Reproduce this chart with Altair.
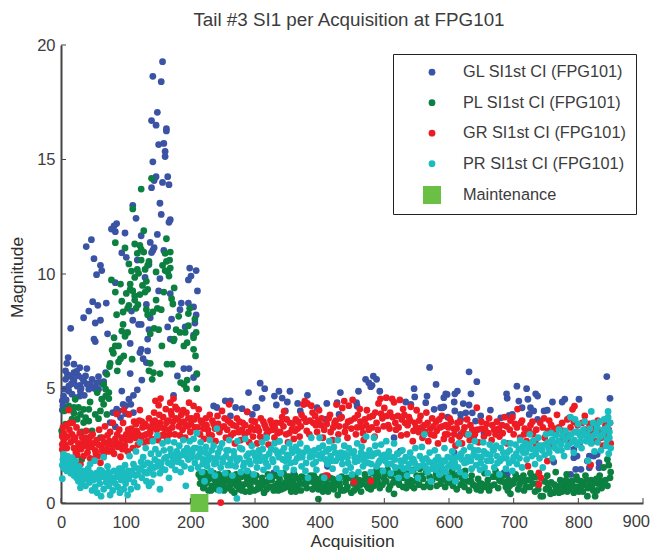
import altair as alt
import pandas as pd

GL = [(157,19.27),(142,18.63),(155,18.4),(149,17.06),(140,16.7),(147,16.5),(163,16.35),(163,16.25),(159,15.7),(151,15.65),(161,15.35),(161,15.13),(142,14.9),(147,14.25),(165,14.25),(144,14.08),(157,14.0),(167,13.9),(140,13.77),(153,13.09),(111,13.0),(155,12.6),(116,12.43),(169,12.37),(167,12.26),(86,12.2),(82,12.1),(78,11.96),(84,11.85),(99,11.79),(149,11.73),(124,11.67),(47,11.5),(138,11.38),(39,11.2),(144,11.15),(142,11.03),(159,11.03),(140,10.93),(94,10.92),(101,10.73),(51,10.67),(118,10.61),(136,10.42),(61,10.38),(63,10.15),(55,9.97),(199,10.26),(209,10.15),(201,9.91),(197,9.74),(153,9.8),(130,9.85),(84,9.62),(211,9.26),(151,9.26),(169,9.14),(49,8.79),(57,8.63),(70,8.73),(186,8.73),(197,8.73),(205,8.56),(132,8.67),(184,8.44),(43,8.38),(109,8.38),(209,8.21),(35,8.09),(138,8.09),(171,8.03),(111,7.98),(61,7.98),(53,7.86),(207,7.86),(120,7.8),(124,7.8),(15,7.63),(165,7.69),(192,7.69),(136,7.57),(72,7.39),(205,7.33),(51,7.16),(134,7.16),(169,7.16),
(53,7.05),(107,6.97),(124,6.71),(122,6.57),(134,6.64),(127,6.3),(132,6.13),(11,6.35),(9,6.1),(20,6.06),(29,5.91),(40,5.87),(7,5.77),(20,5.69),(14,5.55),(27,5.55),(69,5.69),(58,5.52),(107,5.65),(48,5.4),(7,5.4),(35,5.33),(20,5.33),(125,5.37),(61,5.26),(45,5.18),(29,5.14),(5,4.97),(12,4.89),(30,4.89),(43,4.97),(58,4.97),(94,4.89),(118,4.94),(29,4.67),(4,4.67),(112,4.7),(2,4.46),(174,4.7),(105,4.53),(96,4.31),(108,4.31),(2,4.06),(89,4.02),(112,3.95),(92,3.73),(76,3.51),(84,3.33),(290,4.82),(254,4.46),(262,4.46),(236,4.24),(241,4.17),(270,4.17),(280,4.12),(303,4.17),(288,3.98),(262,3.8),(190,5.87),(198,5.87),(210,5.62),(180,5.55),(205,5.48),
(16,5.2),(24,5.75),(12,5.1),(38,5.55),(52,5.0),(3,4.25),(17,4.75),(36,4.7),(66,5.3),(80,3.95),(100,3.9),(86,4.1),(100,4.25),(25,5.1),(33,5.45),(40,5.2),(10,5.6),(18,5.45),(31,5.0),(48,5.05),(22,4.6),(8,4.5),(55,5.25),
(308,5.23),(315,4.99),(337,4.88),(330,4.67),(311,4.57),(354,4.88),(342,4.58),(350,4.41),(333,4.28),(381,4.7),(366,4.35),(377,4.35),(347,4.02),(301,4.16),(296,3.87),(370,4.02),(432,4.82),(460,4.88),(471,5.4),(476,5.25),(483,5.54),(488,5.4),(481,5.14),(479,5.08),(493,4.88),(546,4.99),(547,4.63),(570,5.92),(580,5.18),(566,4.67),(564,4.38),(541,4.31),(533,4.41),(427,4.38),(457,4.38),(411,4.35),(396,4.16),(409,3.65),(430,3.87),(458,4.23),(587,4.16),(592,4.2),(577,4.09),(597,4.74),(412,1.6),(412,1.76),(360,1.32),(329,1.32),(525,2.27),(515,2.85),(523,1.1),
(631,5.73),(643,5.3),(634,4.77),(613,4.89),(609,4.77),(595,4.77),(592,4.6),(608,4.41),(622,4.34),(631,4.28),(590,4.16),(609,4.02),(636,3.94),(598,3.75),(618,3.87),(626,3.94),(664,4.06),(705,5.1),(720,4.99),(689,4.77),(690,4.57),(734,4.77),(737,4.67),(708,4.45),(722,4.53),(726,4.16),(713,4.16),(760,4.41),(779,4.53),(775,4.41),(801,4.53),(844,5.52),(849,4.57),(747,4.02),(752,4.05),(724,3.87),(731,4.02),(693,3.83),(698,3.87),(680,3.72),(649,3.8),(641,3.58),(618,3.65),(737,3.65),(786,3.72),(817,2.05),(824,2.05),(829,2.12),(814,1.83),(832,1.76),(798,2.05),(793,1.98),(804,1.47),(796,1.47),(788,1.25),(762,1.79),(832,1.54),(817,1.54),(690,1.25),(685,1.32),(618,3.0),(608,2.2),(793,2.34),(677,3.2),(654,3.07)]

PL = [(140,14.18),(124,13.71),(111,12.84),(128,11.89),(163,11.54),(84,11.37),(114,11.31),(122,11.25),(99,11.14),(124,11.08),(128,10.96),(118,10.9),(161,10.9),(169,10.96),(168,10.61),(163,10.55),(124,10.61),(136,10.55),(105,10.44),(134,10.38),(157,10.38),(169,10.26),(161,10.15),(118,10.2),(130,10.2),(109,10.13),(147,10.09),(120,10.03),(165,10.09),(167,9.91),(114,9.85),(78,9.74),(132,9.68),(92,9.56),(107,9.56),(126,9.5),(134,9.33),(175,9.39),(107,9.33),(111,9.26),(130,9.21),(84,9.21),(159,9.21),(101,9.15),(122,9.1),(114,9.04),(171,8.92),(114,8.86),(147,8.86),(94,8.81),(173,8.69),(105,8.63),(119,8.66),(103,8.5),(116,8.5),(199,8.5),(149,8.5),(155,8.44),(142,8.34),(132,8.45),(96,8.34),(197,8.27),(86,8.22),(134,8.22),(207,8.03),(182,8.15),(197,7.74),(96,7.8),(144,7.63),(151,7.57),(178,7.57),(184,7.45),(94,7.51),(103,7.45),(192,7.45),(209,7.45),(138,7.39),(99,7.28),(82,7.22),(175,7.16),(205,7.22),
(89,6.86),(84,6.86),(79,6.68),(81,6.54),(97,6.42),(110,6.28),(92,6.3),(89,6.16),(76,6.1),(75,5.96),(138,6.1),(164,6.06),(172,6.06),(156,6.86),(174,7.08),(190,6.86),(195,7.0),(205,6.71),(208,6.42),(136,5.77),(87,5.77),(71,5.62),(143,5.69),(153,5.65),(141,5.4),(210,5.65),(195,5.37),(185,5.26),(190,5.18),(210,4.99),(194,4.99),(66,5.18),(69,4.97),(56,4.82),(74,4.82),(69,4.67),(74,4.56),(63,4.53),(22,4.53),(45,4.41),(66,4.31),(20,4.17),(12,4.24),(27,4.17),(5,4.02),(35,4.09),(43,4.09),(20,3.92),(30,3.87),(61,4.02),(53,3.87),(71,3.87),(38,3.73),(58,3.68),(17,3.66),(43,3.58),(25,3.66),(35,3.51),(7,3.44),(1,3.15),(2,3.0),(32,3.1),(48,3.15),(61,2.85),(32,1.9),
(208,0.25),(213,1.25),(215,0.85),(218,1.05),(220,0.65),(223,1.3),(225,0.9),(228,0.55),(231,1.15),(233,0.75),(236,1.3),(238,1.0),(241,0.6),(244,1.25),(246,0.85),(249,1.1),(252,0.55),(255,0.95),(258,1.3),(260,0.7),(263,1.1),(266,0.85),(268,0.45),(271,1.25),(274,0.95),(276,0.6),(279,1.15),(282,0.8),(285,0.5),(288,1.05),(290,1.3),(293,0.7),(296,0.95),(299,0.55),(302,1.2),(305,0.85),(308,0.65),(311,1.1),(314,0.45),(317,0.9),(320,1.25),(323,0.7),(326,1.0),(329,0.55),(332,1.2),(335,0.85),(338,1.05),(341,0.6),(344,1.3),(347,0.9),(350,0.7),(353,1.15),(356,0.5),(359,0.95),(362,1.2),(365,0.75),(368,1.05),(371,0.55),(374,0.85),(377,1.1),(380,0.65),(383,0.95),(386,1.2),(389,0.6),(392,0.85),(395,1.05),(398,0.17),(398,0.6),(401,0.9),(404,1.15),(407,0.7),(410,0.95),(413,0.5),(416,1.1),(419,0.8),(422,0.6),(425,1.0),(428,0.35),(431,0.75),(434,1.15),(437,0.55),(440,0.9),(443,0.7),(446,1.1),(449,0.45),(452,0.85),(455,1.2),(458,0.65),(461,1.0),(464,0.5),(467,0.85),(470,1.25),(473,0.75),(476,1.05),(479,0.6),(482,1.3),(485,1.0),(488,1.45),(491,1.15),(495,1.4),(500,1.05),(505,1.45),(510,1.2),(515,0.4),(518,1.3),(522,0.95),(525,1.4),(530,1.1),(535,1.3),(540,1.0),(545,1.45),(550,1.2),(555,1.5),(560,1.05),(565,1.35),(570,1.15),(575,1.5),(580,1.25),(585,1.4),(590,1.05),(595,1.3),(600,1.15),(605,1.4),(610,1.0),(615,1.25),(620,1.1),(625,1.4),(630,0.95),(635,1.2),(640,0.75),(645,1.05),(650,0.85),(655,1.3),(660,1.0),(665,0.75),(668,1.15),(672,1.4),(676,0.65),(680,0.95),(684,1.2),(688,0.7),(692,1.0),(695,0.4),(699,0.85),(703,1.25),(707,0.6),(711,0.95),(715,1.2),(719,0.7),(722,1.0),(726,1.3),(730,0.85),(734,1.15),(738,0.6),(742,0.3),(745,0.3),(748,0.95),(752,1.2),(755,0.6),(758,0.9),(762,0.45),(765,1.35),(768,0.7),(772,1.0),(775,0.5),(779,0.8),(782,1.25),(786,0.6),(790,0.95),(793,0.45),(797,1.15),(800,0.7),(804,0.95),(807,0.5),(811,1.2),(814,0.3),(817,0.75),(820,1.0),(823,0.55),(826,0.3),(830,0.85),(833,1.2),(836,0.65),(839,1.55),(842,1.0),(845,0.75),(849,1.1),(850,1.35),(847,1.65),(845,1.9),
(216,1.1),(222,0.8),(229,1.05),(235,0.7),(242,1.0),(250,0.8),(257,0.65),(264,0.55),(272,0.75),(280,0.55),(287,0.85),(295,1.2),(303,0.6),(312,0.8),(322,1.0),(331,0.75),(340,0.8),(349,1.15),(358,0.7),(369,0.85),(381,1.05),(391,1.2),(402,0.65),(412,0.8),(420,1.05),(430,0.95),(441,0.6),(451,1.1),(463,0.8),(475,0.65),
(484,0.75),(490,0.9),(497,0.8),(503,0.95),(509,0.75),(516,1.0),(523,0.8),(529,0.7),(536,0.9),(542,0.75),(548,0.95),(554,0.8),(561,0.7),(568,0.85),(574,1.0),(581,0.75),(587,0.85),(594,0.7),(600,0.9),(606,0.75),(612,0.6),(618,0.8),(624,0.7),(631,0.55),(637,0.8),(643,0.6),(649,0.55),(656,0.7),(662,0.55),(670,0.8),(678,1.0),(686,0.9),(694,0.75),(701,1.0),(709,0.8),(717,0.95),(725,0.7),(733,0.5),
(750,0.6),(757,0.4),(763,0.8),(770,0.45),(777,0.65),(783,0.5),(788,0.85),(795,0.7),(801,0.5),(808,0.8),(815,0.65),(822,0.85),(829,0.55),(835,0.95),
(219,1.35),(226,1.2),(232,0.55),(239,0.8),(247,0.6),(254,1.2),(261,0.9),(269,1.05),(277,0.8),(284,1.2),(292,0.5),(300,0.95),(309,0.9),(318,0.6),(327,1.2),(336,0.55),(345,0.65),(354,0.9),(363,0.5),(372,1.15),(379,0.85),(388,0.95),(396,0.75),(405,0.5),(415,0.65),(424,0.8),(433,0.55),(442,1.1),(453,0.55),(460,0.8),(469,1.0),(478,0.85),(487,1.2),(493,0.65),(501,1.25),(507,0.6),(514,0.9),(527,1.2),(534,0.65),(546,0.65),(557,1.2),(571,0.7),(583,1.1),(597,0.95),(609,1.2),(622,0.95),(634,0.95),(647,0.8),(658,0.8),(674,1.15),(691,0.55),(706,1.1),(716,0.55),(728,1.1),(736,0.85),(753,0.85),(766,0.6),(773,0.8),(781,1.0),(791,0.75),(799,1.0),(806,0.75),(813,1.0),(821,0.75),(828,1.05),(838,0.85)]

GR = [(247,0.02),(2,2.34),(2,2.56),(2,2.9),(3,3.3),(4,3.05),(6,2.55),(8,3.4),(10,2.9),(12,4.06),(13,3.2),(15,2.65),(17,3.0),(18,3.5),(20,2.4),(22,2.85),(24,3.3),(25,2.1),(27,2.6),(29,3.05),(30,1.69),(31,2.35),(33,2.85),(35,2.05),(37,2.5),(39,3.15),(41,2.2),(43,2.7),(45,1.95),(47,2.45),(49,3.0),(51,1.9),(53,2.3),(55,2.75),(57,2.05),(59,3.2),(61,1.76),(62,2.5),(64,2.85),(66,2.1),(68,3.35),(70,2.6),(72,2.95),(74,2.25),(76,3.1),(78,2.55),(80,3.5),(82,2.15),(84,2.8),(86,3.89),(88,2.45),(90,3.2),(92,2.02),(94,2.85),(96,3.5),(97,4.06),(99,2.5),(101,3.0),(103,2.25),(105,3.87),(107,2.75),(109,3.25),(111,2.4),(113,3.55),(115,2.85),(117,3.15),(119,2.55),(121,3.6),(122,4.06),(124,2.9),(126,3.3),(128,2.65),(130,3.45),(132,3.0),(134,2.7),(136,3.7),(138,3.1),(140,2.8),(142,3.5),(144,3.95),(146,4.46),(148,3.2),(150,2.75),(151,4.27),(153,3.5),(154,4.56),(156,2.95),(158,3.75),(160,3.25),(162,4.1),(164,2.8),(166,3.6),(168,3.0),(169,4.38),(171,3.85),(172,3.3),(174,4.56),(176,3.0),(178,3.7),(180,4.09),(182,3.35),(184,2.95),(186,3.85),(188,3.2),(190,3.55),(192,2.85),(194,3.95),(196,3.35),(198,4.38),(200,3.1),(202,3.7),(205,4.24),(207,3.3),(210,3.8),(213,4.09),(215,3.0),(218,3.5),(221,2.8),(224,3.7),(227,3.2),(230,3.85),(233,2.95),(236,3.45),(239,2.7),(242,3.8),(245,3.1),(249,4.02),(252,3.35),(255,2.85),(258,3.6),(260,4.31),(263,2.95),(266,3.4),(269,2.6),(272,3.7),(275,3.1),(278,2.75),(281,3.5),(284,3.0),(288,3.98),(291,2.65),(294,3.3),(297,2.9),(300,3.55),(303,2.6),(306,3.15),(309,3.7),(312,2.8),(315,3.4),(318,3.0),(321,2.55),(324,3.6),(327,3.2),(330,2.85),(333,3.5),(336,2.7),(339,3.1),(342,3.75),(345,4.0),(348,3.0),(351,2.65),(354,3.5),(357,3.2),(360,2.8),(363,3.65),(366,3.25),(369,2.9),(372,3.85),(375,4.3),(377,4.45),(379,3.55),(381,4.35),(384,3.0),(387,4.25),(390,3.5),(393,3.8),(396,3.1),(399,4.05),(402,3.4),(405,2.85),(409,1.2),(412,1.2),(414,3.7),(417,3.1),(420,2.75),(423,3.5),(426,4.3),(429,3.0),(432,3.7),(435,4.15),(438,4.45),(440,3.35),(443,2.85),(445,4.25),(448,3.6),(451,4.5),(453,0.92),(456,3.0),(459,3.85),(462,4.1),(465,3.3),(468,2.75),(470,3.65),(473,4.05),(476,3.2),(479,0.96),(482,3.8),(485,2.9),(488,3.5),(491,4.35),(494,4.55),(497,3.7),(500,4.15),(503,4.6),(506,3.4),(509,3.95),(512,4.55),(515,4.4),(518,3.2),(521,3.8),(524,4.5),(526,2.95),(529,4.1),(532,3.5),(535,3.0),(538,3.75),(541,4.2),(544,2.7),(547,3.5),(550,4.05),(553,3.1),(556,3.8),(559,2.85),(562,3.4),(565,3.95),(568,2.7),(571,3.25),(574,3.7),(577,2.95),(580,3.55),(583,2.6),(586,3.3),(589,3.8),(592,2.8),(595,3.4),(598,3.0),(601,3.7),(604,2.75),(607,3.25),(610,2.5),(613,3.5),(616,2.9),(620,2.6),(624,3.3),(628,3.65),(632,2.75),(636,3.2),(640,3.0),(643,4.16),(646,2.65),(650,3.25),(654,2.9),(658,3.45),(662,3.7),(666,2.75),(670,3.2),(674,3.55),(678,2.9),(682,3.4),(686,3.75),(690,2.6),(694,3.2),(698,3.75),(702,3.45),(706,4.1),(710,2.85),(713,3.6),(717,3.25),(720,2.7),(722,1.61),(726,3.4),(730,3.0),(734,2.6),(739,0.81),(739,1.32),(742,1.1),(745,3.3),(748,2.85),(752,1.83),(755,3.6),(759,2.5),(763,3.25),(767,3.85),(771,2.7),(775,3.5),(779,2.95),(783,3.65),(787,2.65),(791,4.09),(794,4.23),(798,3.1),(802,2.6),(806,3.5),(810,3.8),(814,2.9),(819,1.66),(822,3.3),(826,2.7),(830,3.6),(834,3.1),(838,2.5),(842,3.4),(846,2.9),(849,3.5),(850,2.6),
(5,2.8),(9,2.4),(14,3.5),(19,2.75),(23,2.2),(28,2.4),(34,2.6),(38,2.85),(42,2.45),(46,2.9),(50,2.6),(54,2.15),(58,2.55),(63,2.3),(67,2.65),(71,2.35),(75,2.7),(79,2.3),(83,2.55),(87,3.0),(91,2.6),(95,2.35),(100,2.75),(104,3.2),(108,2.95),(112,3.0),(116,3.45),(120,3.0),(125,3.55),(129,2.95),(133,3.35),(137,3.05),(141,3.3),(145,3.6),(149,3.45),(152,3.85),(155,3.3),(159,3.0),(163,3.5),(167,3.2),(170,4.0),(173,3.55),(177,4.2),(181,3.65),(185,3.5),(189,4.05),(193,3.4),(197,3.7),(201,3.45),(206,3.65),(211,3.3),(216,3.6),(220,3.25),(225,3.4),(229,3.0),(234,3.6),(238,3.25),(243,3.45),(248,3.3),(253,3.7),(257,3.2),(262,3.5),(267,3.05),(271,3.35),(276,3.55),(280,3.2),(285,3.4),(290,3.1),(295,3.6),(299,3.2),(304,3.3),(308,2.9),(313,3.55),(317,3.25),(322,3.15),(326,3.45),(331,3.25),(335,3.05),(340,3.5),(344,3.35),(349,3.65),(353,3.05),(358,3.45),(362,3.15),(367,3.55),(371,3.35),(376,3.7),(380,3.15),(385,3.6),(389,3.95),(394,3.4),(398,3.6),(403,3.7),(407,3.2),(411,3.45),(416,3.85),(421,3.3),(425,3.6),(430,3.35),(434,3.75),(439,3.1),(444,3.55),(449,3.25),(454,3.7),(458,3.3),(463,3.55),(467,3.05),(472,3.4),(477,3.75),(481,3.3),(486,3.95),(490,3.2),(495,3.9),(499,3.35),(504,3.8),(508,3.25),(513,3.75),(517,3.5),(522,3.3),(527,3.65),(531,3.85),(536,3.4),(540,3.6),(545,3.15),(549,3.3),(554,3.6),(558,3.3),(563,3.1),(567,3.5),(572,3.0),(576,3.35),(581,3.15),(585,3.65),(590,3.35),(594,3.0),(599,3.3),(603,3.55),(608,3.0),(612,3.25),(617,3.55),(622,3.1),(627,3.0),(633,3.4),(638,2.85),(644,3.2),(650,3.55),(656,3.2),(661,3.05),(667,3.4),(672,3.0),(677,3.25),(683,3.05),(689,3.35),(695,3.6),(700,3.0),(705,3.3),(711,3.5),(716,3.0),(724,3.15),(729,3.55),(735,3.2),(741,3.5),(747,3.7),(753,3.15),(758,3.4),(765,3.0),(770,3.3),(776,3.15),(782,3.0),(788,3.3),(793,3.55),(799,3.4),(805,3.0),(811,3.2),(817,3.45),(823,3.05),(829,3.3),(835,2.85),(841,3.1),(847,3.2)]

PR = [(2,1.06),(2,1.65),(3,1.9),(4,2.13),(5,1.5),(7,1.75),(9,1.4),(10,2.05),(12,1.85),(14,1.55),(15,1.3),(17,1.98),(18,1.65),(20,1.2),(21,1.45),(22,1.83),(24,1.1),(25,1.35),(27,0.95),(28,1.6),(30,0.67),(30,1.2),(32,0.85),(34,1.4),(36,1.05),(38,0.75),(40,1.25),(42,1.5),(44,0.9),(45,1.7),(47,1.15),(48,0.55),(50,1.0),(52,1.85),(53,0.7),(55,1.3),(56,0.45),(58,1.05),(60,0.85),(60,1.45),(62,0.3),(64,1.15),(66,0.6),(66,2.0),(68,1.25),(70,0.9),(72,1.6),(74,0.75),(75,1.25),(76,0.35),(78,1.05),(80,0.55),(82,1.4),(84,0.85),(86,1.15),(88,0.7),(90,1.5),(91,0.45),(93,1.0),(95,1.3),(97,0.6),(99,1.65),(100,0.85),(102,1.2),(103,0.35),(105,1.05),(106,2.05),(108,0.6),(110,1.4),(112,1.7),(113,0.9),(115,1.2),(116,2.25),(118,0.7),(120,1.5),(122,2.65),(124,1.8),(125,1.1),(127,2.0),(129,1.35),(131,2.4),(132,0.95),(134,1.75),(136,0.75),(137,1.45),(139,2.15),(140,0.9),(142,2.7),(143,1.25),(145,1.9),(146,2.35),(148,1.6),(149,2.95),(151,2.15),(153,1.3),(153,0.6),(155,1.75),(157,2.6),(159,2.3),(161,1.45),(163,2.0),(165,2.7),(167,1.1),(169,2.35),(171,1.65),(173,2.0),(175,2.65),(177,1.45),(179,2.25),(181,1.8),(183,2.5),(185,1.35),(187,2.1),(189,2.75),(191,1.6),(193,0.75),(195,2.4),(197,1.9),(199,2.7),(201,1.5),(203,2.2),(205,2.8),(207,1.75),(209,2.4),(210,3.05),(212,1.55),(214,2.1),(216,2.65),(218,1.35),(220,1.9),(222,0.95),(224,2.45),(226,1.6),(228,2.1),(230,2.75),(232,1.4),(234,1.95),(236,2.5),(238,1.2),(240,1.75),(241,3.25),(243,2.2),(245,0.55),(247,1.55),(249,2.6),(251,1.95),(254,1.3),(256,2.3),(258,1.65),(260,2.75),(262,1.9),(265,1.2),(267,2.25),(270,1.6),(272,0.2),(273,2.7),(276,1.95),(278,1.35),(280,2.35),(283,1.75),(285,2.8),(288,1.4),(290,2.15),(293,1.7),(295,2.5),(298,1.25),(300,2.05),(303,1.55),(306,2.3),(308,1.85),(311,2.65),(313,1.45),(316,2.0),(318,2.85),(320,1.6),(323,1.15),(325,2.35),(328,1.8),(330,2.6),(333,1.5),(335,2.15),(338,2.7),(340,1.3),(343,1.9),(345,2.4),(348,1.55),(350,2.1),(353,2.6),(355,1.75),(358,2.2),(360,1.45),(363,2.45),(365,1.95),(368,2.0),(370,2.6),(372,1.6),(375,2.2),(378,1.4),(380,2.4),(382,1.1),(385,2.0),(387,2.85),(390,1.7),(392,2.3),(395,1.45),(398,2.1),(400,2.85),(402,1.95),(405,2.5),(407,1.1),(410,2.25),(412,1.7),(415,2.7),(417,2.05),(420,1.5),(422,2.45),(425,1.85),(428,2.75),(430,1.1),(433,2.2),(435,1.7),(438,2.5),(440,1.4),(443,2.0),(445,2.4),(448,1.55),(450,1.25),(453,2.25),(455,1.8),(458,2.6),(460,1.35),(462,2.0),(465,2.45),(467,1.6),(470,2.1),(472,2.9),(475,1.75),(477,2.3),(479,1.35),(481,2.05),(484,2.85),(486,2.5),(488,1.6),(490,2.2),(493,1.85),(495,2.55),(498,1.4),(500,2.1),(503,2.7),(505,1.7),(507,2.25),(510,1.3),(512,2.0),(515,2.6),(517,1.55),(520,2.15),(522,1.1),(525,1.85),(528,2.3),(530,1.5),(533,2.0),(535,1.2),(538,1.7),(540,2.2),(543,1.4),(545,1.9),(548,2.4),(550,1.55),(552,1.1),(555,2.05),(558,2.45),(560,1.65),(562,3.0),(565,1.95),(567,1.35),(570,2.2),(572,0.95),(575,1.7),(578,2.3),(580,1.45),(583,2.0),(585,1.25),(588,1.85),(590,1.5),(593,2.4),(595,1.35),(598,2.0),(600,1.1),(603,1.7),(605,2.25),(608,1.55),(610,0.95),(612,2.0),(615,2.6),(617,1.35),(620,1.9),(623,2.3),(625,1.2),(628,1.8),(630,3.0),(633,2.45),(635,1.5),(638,2.1),(640,2.7),(642,1.65),(645,2.3),(648,1.45),(650,2.0),(653,2.65),(655,1.55),(658,2.15),(660,1.3),(663,2.55),(665,1.85),(668,2.35),(670,1.55),(673,2.5),(675,1.75),(678,1.25),(680,2.4),(683,1.95),(685,2.65),(688,1.5),(690,2.2),(693,1.75),(695,2.6),(698,1.4),(700,2.0),(703,2.55),(705,1.7),(708,2.35),(710,2.75),(713,1.55),(715,2.2),(718,2.6),(720,1.9),(723,2.4),(725,3.0),(728,2.05),(730,2.7),(733,1.7),(735,2.35),(738,2.85),(740,1.95),(743,2.5),(745,1.55),(748,2.1),(750,3.0),(753,2.65),(755,2.2),(758,3.05),(760,1.95),(763,2.6),(765,2.95),(768,2.3),(770,3.2),(773,2.55),(775,2.95),(778,2.05),(780,3.15),(783,2.45),(785,2.9),(788,3.75),(790,2.65),(793,2.2),(795,3.1),(798,2.55),(800,3.45),(803,2.95),(805,2.4),(808,3.2),(810,3.55),(813,2.7),(815,1.85),(818,3.25),(820,2.6),(823,3.5),(825,2.25),(828,3.1),(830,2.65),(833,3.55),(835,2.3),(838,3.0),(840,3.65),(843,2.5),(845,3.3),(846,4.0),(847,2.15),(848,2.85),(849,3.5),(850,2.4),(846,3.75),(820,4.0),(795,3.65),
(6,1.95),(11,1.65),(16,1.75),(23,1.55),(29,1.4),(35,1.2),(41,1.05),(46,1.3),(51,1.15),(57,1.25),(63,1.4),(69,1.1),(73,1.35),(77,0.95),(83,1.1),(89,1.25),(94,1.5),(98,1.1),(104,1.4),(109,1.25),(114,1.55),(119,1.25),(123,1.5),(128,1.65),(133,1.3),(138,1.7),(144,1.55),(150,1.8),(156,1.5),(160,1.95),(166,1.75),(170,2.1),(174,1.8),(178,2.15),(182,2.0),(186,1.75),(190,2.25),(194,2.05),(198,2.3),(202,2.0),(206,2.4),(211,2.0),(215,2.35),(219,1.7),(223,2.2),(227,1.85),(233,2.3),(237,1.7),(242,2.0),(246,2.4),(250,1.8),(255,2.05),(259,2.3),(263,1.65),(268,2.05),(272,1.85),(277,2.4),(282,1.6),(287,2.05),(291,1.85),(297,2.2),(302,1.85),(307,2.1),(312,2.35),(317,1.75),(322,2.15),(327,1.9),(332,2.3),(337,2.0),(342,2.25),(347,1.85),(352,2.0),(357,2.35),(362,1.8),(367,2.25),(373,2.0),(379,1.75),(384,2.25),(389,2.05),(394,1.8),(399,2.4),(404,2.15),(409,1.9),(414,2.35),(419,1.85),(424,2.2),(429,2.0),(434,1.95),(439,2.15),(444,1.75),(449,2.2),(454,2.0),(459,1.85),(464,2.2),(469,1.85),(474,2.05),(480,1.7),(485,2.15),(491,1.75),(496,2.05),(501,1.85),(506,2.0),(511,1.7),(516,1.9),(521,2.15),(526,1.6),(531,1.85),(537,1.55),(542,1.95),(547,1.75),(553,1.6),(559,1.9),(564,1.55),(569,1.8),(574,1.5),(579,1.85),(584,1.6),(589,1.75),(594,1.85),(599,1.6),(604,1.95),(609,1.75),(614,1.55),(619,2.15),(624,1.75),(629,2.0),(634,1.85),(639,2.3),(644,2.0),(649,1.75),(654,2.25),(659,1.85),(664,2.1),(669,2.3),(674,2.05),(679,1.85),(684,2.2),(689,1.95),(694,2.3),(699,1.85),(704,2.15),(709,1.95),(714,2.45),(719,2.2),(724,2.55),(729,2.35),(734,2.15),(739,2.5),(744,2.3),(749,2.55),(754,2.4),(759,2.75),(764,2.4),(769,2.7),(774,2.3),(779,2.75),(784,2.5),(789,3.0),(794,2.75),(799,3.1),(804,2.7),(809,2.95),(814,3.0),(819,2.8),(824,2.95),(829,3.3),(834,2.9),(839,3.2),(844,2.75),(848,3.1)]

MAINT = [(214,0)]

X_TICKS = [0,100,200,300,400,500,600,700,800,900]
Y_TICKS = [0,5,10,15,20]
NAMES = ["GL SI1st CI (FPG101)","PL SI1st CI (FPG101)","GR SI1st CI (FPG101)","PR SI1st CI (FPG101)","Maintenance"]
COLORS = ["#3a53a4","#0b8040","#ed1c24","#1bbcc0","#6abf45"]
SIZES = [46,46,46,46,324]
SHAPES = ["circle","circle","circle","circle","square"]

rows = []
for i, (name, series) in enumerate(zip(NAMES, [GL, PL, GR, PR, MAINT])):
    for j, (x, y) in enumerate(series):
        rows.append({"x": x, "y": y, "s": name, "o": i*10000+j})
df = pd.DataFrame(rows)

FONT = "Liberation Sans"
TXT = "#3c3c3c"
W, H = 582, 458
xs = alt.Scale(domain=[0,900], nice=False, zero=False)
ys = alt.Scale(domain=[0,20], nice=False, zero=False)

points = alt.Chart(df).mark_point(filled=True, opacity=1, clip=False, strokeWidth=0).encode(
    x=alt.X("x:Q", scale=xs, axis=alt.Axis(values=X_TICKS, title="Acquisition", grid=False, tickSize=0, labelPadding=11,
        labelFontSize=16.5, titleFontSize=17.4, titleFontWeight="normal", labelColor=TXT, titleColor="#2e2e2e", labelFont=FONT, titleFont=FONT,
        domainColor="#444444", domainWidth=2, titlePadding=2, labelFlush=False,
        labelExpr="datum.value == 900 ? '' : datum.label")),
    y=alt.Y("y:Q", scale=ys, axis=alt.Axis(values=Y_TICKS, title="Magnitude", grid=False, tickSize=0, labelPadding=6,
        labelFontSize=16.5, titleFontSize=17.4, titleFontWeight="normal", labelColor=TXT, titleColor="#2e2e2e", labelFont=FONT, titleFont=FONT,
        domainColor="#444444", domainWidth=2, titlePadding=10, titleY=232)),
    color=alt.Color("s:N", scale=alt.Scale(domain=NAMES, range=COLORS), sort=NAMES, legend=alt.Legend(
        title=None, orient="none", legendX=332, legendY=9, padding=10, strokeColor="#222222", fillColor="white",
        labelFont=FONT, labelFontSize=16.3, labelColor=TXT, symbolOffset=20, labelOffset=22, rowPadding=13.5, labelLimit=300,
        symbolStrokeWidth=0, cornerRadius=0)),
    size=alt.Size("s:N", scale=alt.Scale(type="ordinal", domain=NAMES, range=SIZES), sort=NAMES, legend=None),
    shape=alt.Shape("s:N", scale=alt.Scale(domain=NAMES, range=SHAPES), sort=NAMES, legend=None),
    order="o:Q",
)

xt = alt.Chart(pd.DataFrame({"v": X_TICKS})).mark_rule(color="#444444", strokeWidth=1).encode(
    x=alt.X("v:Q", scale=xs), y=alt.value(H-5), y2=alt.value(H))
yt = alt.Chart(pd.DataFrame({"v": Y_TICKS})).mark_rule(color="#444444", strokeWidth=1).encode(
    y=alt.Y("v:Q", scale=ys), x=alt.value(0), x2=alt.value(5))
last_label = alt.Chart(pd.DataFrame({"v": [900], "t": ["900"]})).mark_text(
    align="right", baseline="top", dx=7, dy=11, font=FONT, fontSize=16.5, color=TXT).encode(
    x=alt.X("v:Q", scale=xs), y=alt.value(H), text="t:N")

chart = alt.layer(points, xt, yt, last_label).properties(
    width=W, height=H,
    title=alt.TitleParams("Tail #3 SI1 per Acquisition at FPG101", font=FONT, fontSize=18.8, fontWeight="normal", color=TXT, anchor="middle", offset=7, dx=-3),
    autosize=alt.AutoSizeParams(type="none"),
    padding={"left":53,"top":37,"right":7,"bottom":49},
).configure_view(stroke=None)

chart.save("out.html", embed_options={"renderer": "svg", "actions": False})
